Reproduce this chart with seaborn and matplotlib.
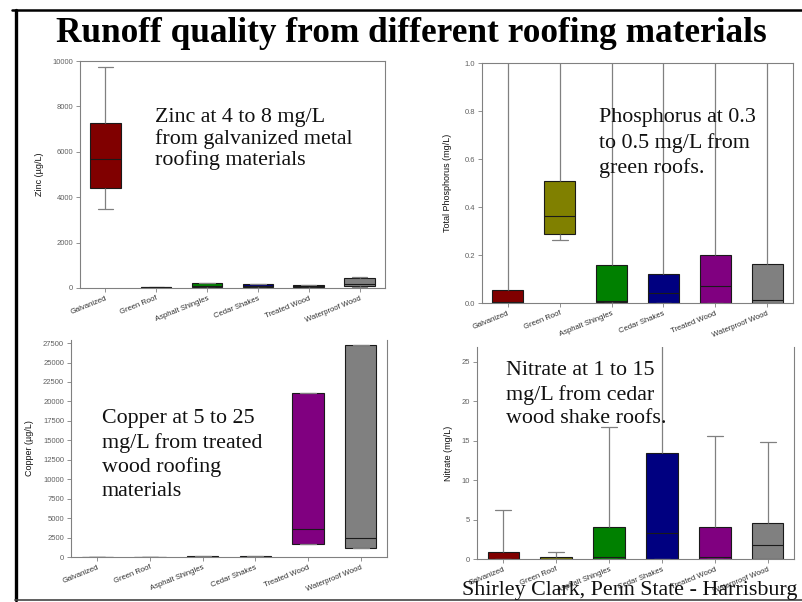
import pandas as pd
import seaborn as sns
import matplotlib.pyplot as plt
from matplotlib.lines import Line2D

materials = ["Galvanized", "Green Roof", "Asphalt Shingles", "Cedar Shakes",
             "Treated Wood", "Waterproof Wood"]
box_colors = ["#800000", "#808000", "#008000", "#000080", "#800080", "#808080"]

# five-number summaries (low whisker, Q1, median, Q3, high whisker)
# one row per material, same order as `materials`
zinc_stats = [
    [3500, 4420, 5700, 7270, 9750],
    [5, 15, 25, 35, 45],
    [10, 40, 90, 220, 220],
    [20, 50, 110, 170, 170],
    [10, 40, 70, 130, 140],
    [50, 90, 160, 450, 470],
]
phosphorus_stats = [
    [0.0, 0.002, 0.004, 0.055, 1.5],
    [0.262, 0.287, 0.362, 0.508, 1.5],
    [0.0, 0.003, 0.007, 0.157, 1.5],
    [0.0, 0.0, 0.04, 0.12, 1.5],
    [0.0, 0.0, 0.07, 0.2, 1.5],
    [0.0, 0.002, 0.012, 0.162, 1.5],
]
copper_stats = [
    [0, 2, 5, 10, 20],
    [0, 10, 20, 40, 60],
    [10, 30, 60, 120, 150],
    [5, 20, 40, 70, 90],
    [1700, 1700, 3550, 21100, 21100],
    [1200, 1200, 2500, 27200, 27200],
]
nitrate_stats = [
    [0, 0.02, 0.05, 0.85, 6.2],
    [0, 0.02, 0.05, 0.2, 0.85],
    [0, 0.05, 0.3, 4.1, 16.7],
    [0, 0.05, 3.3, 13.5, 30.0],
    [0, 0.05, 0.3, 4.1, 15.6],
    [0, 0.05, 1.8, 4.6, 14.8],
]

zinc_ticks = [0, 2000, 4000, 6000, 8000, 10000]
phosphorus_ticks = [0.0, 0.2, 0.4, 0.6, 0.8, 1.0]
copper_ticks = list(range(0, 27501, 2500))
nitrate_ticks = [0, 5, 10, 15, 20, 25]

title = "Runoff quality from different roofing materials"
notes = [
    "Zinc at 4 to 8 mg/L\nfrom galvanized metal\nroofing materials",
    "Phosphorus at 0.3\nto 0.5 mg/L from\ngreen roofs.",
    "Copper at 5 to 25\nmg/L from treated\nwood roofing\nmaterials",
    "Nitrate at 1 to 15\nmg/L from cedar\nwood shake roofs.",
]
credit = "Shirley Clark, Penn State - Harrisburg"


def long_frame(stats):
    rows = [(m, v) for m, vals in zip(materials, stats) for v in vals]
    return pd.DataFrame(rows, columns=["material", "value"])


def draw_panel(ax, stats, ylabel, ylim, ticks, label_x, top_spine=True):
    sns.boxplot(
        data=long_frame(stats), x="material", y="value", hue="material",
        order=materials, hue_order=materials, palette=box_colors, legend=False,
        saturation=1, width=0.6, whis=(0, 100), linecolor="#1a1a1a", linewidth=0.8,
        whiskerprops=dict(color="#808080", linewidth=0.9),
        capprops=dict(color="#808080", linewidth=0.9),
        ax=ax,
    )
    ax.set_xlim(-0.5, 5.5)
    ax.set_ylim(*ylim)
    ax.set_yticks(ticks)
    ax.set_xlabel("")
    ax.set_ylabel(ylabel, fontsize=6.5, color="#111111")
    ax.yaxis.set_label_coords(label_x, 0.5)
    for side, sp in ax.spines.items():
        sp.set_color("#808080")
        sp.set_linewidth(0.8)
    ax.spines["top"].set_visible(top_spine)
    ax.tick_params(axis="y", length=3, width=0.6, color="#808080",
                   labelsize=5.5, labelcolor="#606060", pad=2, left=True)
    ax.tick_params(axis="x", length=3, width=0.6, color="#808080",
                   labelsize=5.5, labelcolor="#303030", pad=2, bottom=True)
    plt.setp(ax.get_xticklabels(), rotation=22, ha="right", va="top",
             rotation_mode="anchor")


sns.set_theme(style="white")
plt.rcParams["font.family"] = ["Liberation Sans", "DejaVu Sans"]

W, H = 803, 602
fig = plt.figure(figsize=(W / 100, H / 100), dpi=100)


def px_axes(left, top, right, bottom):
    return fig.add_axes([left / W, 1 - bottom / H, (right - left) / W, (bottom - top) / H])


ax_zn = px_axes(80, 61, 385, 288)
ax_p = px_axes(482, 63, 793, 303)
ax_cu = px_axes(71, 340, 387, 557)
ax_no3 = px_axes(477, 347, 794, 559)

draw_panel(ax_zn, zinc_stats, "Zinc (\u00b5g/L)", (0, 10000), zinc_ticks, -36 / 305)
draw_panel(ax_p, phosphorus_stats, "Total Phosphorus (mg/L)", (0, 1.0), phosphorus_ticks, -30 / 311)
draw_panel(ax_cu, copper_stats, "Copper (\u00b5g/L)", (0, 27900), copper_ticks, -37 / 316, top_spine=False)
draw_panel(ax_no3, nitrate_stats, "Nitrate (mg/L)", (0, 26.9), nitrate_ticks, -24 / 317, top_spine=False)
ax_p.yaxis.set_major_formatter(plt.FormatStrFormatter("%.1f"))

# slide frame
fig.add_artist(Line2D([12 / W, 1], [1 - 10 / H, 1 - 10 / H], color="black", lw=1.8,
                      transform=fig.transFigure))
fig.add_artist(Line2D([16 / W, 16 / W], [1 - 10 / H, 1 - 600 / H], color="black", lw=2.4,
                      transform=fig.transFigure))
fig.add_artist(Line2D([15 / W, 1], [1 - 600 / H, 1 - 600 / H], color="#444444", lw=1.2,
                      transform=fig.transFigure))

serif = ["Liberation Serif", "DejaVu Serif"]
fig.text(411 / W, 1 - 42 / H, title, ha="center", va="baseline", family=serif,
         fontweight="bold", fontsize=25.4, color="black")

# last-line baseline of each note and its line spacing
note_pos = [(155, 165, 1.1), (599, 173, 1.36), (102, 496, 1.33), (506, 423, 1.31)]
for (x, y, ls), txt in zip(note_pos, notes):
    fig.text(x / W, 1 - y / H, txt, ha="left", va="baseline", family=serif,
             fontsize=15.8, linespacing=ls, color="#111111")

fig.text(462 / W, 1 - 595 / H, credit, ha="left", va="baseline", family=serif,
         fontsize=15.8, color="#111111")

fig.savefig("out.png", dpi=100)
